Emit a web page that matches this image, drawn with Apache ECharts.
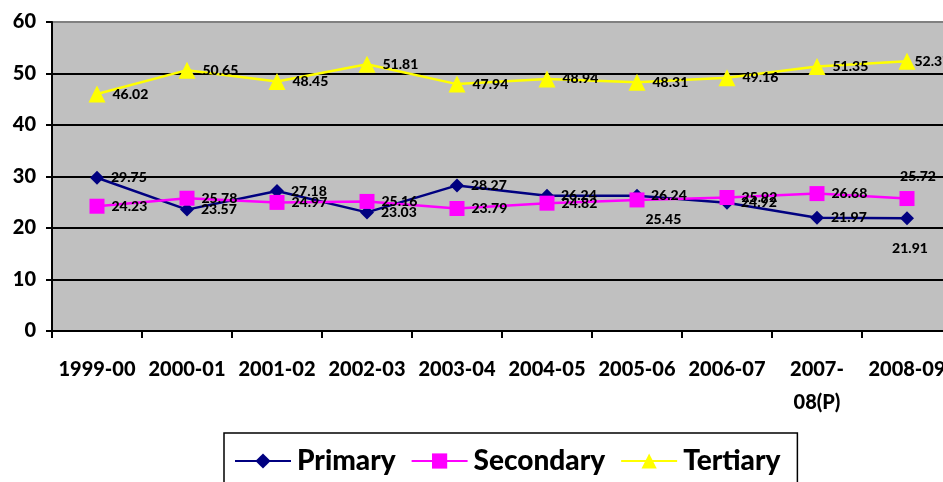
<!DOCTYPE html>
<html>
<head>
<meta charset="utf-8">
<script src="https://cdn.jsdelivr.net/npm/echarts@6/dist/echarts.min.js"></script>
<style>
  html, body { margin: 0; padding: 0; background: #ffffff; }
  #chart { width: 943px; height: 482px; }
</style>
</head>
<body>
<div id="chart"></div>
<script>
// Sector shares (%) by year
const years = ['1999-00', '2000-01', '2001-02', '2002-03', '2003-04', '2004-05', '2005-06', '2006-07', '2007-08(P)', '2008-09'];
const primary   = [29.75, 23.57, 27.18, 23.03, 28.27, 26.24, 26.24, 24.92, 21.97, 21.91];
const secondary = [24.23, 25.78, 24.97, 25.16, 23.79, 24.82, 25.45, 25.92, 26.68, 25.72];
const tertiary  = [46.02, 50.65, 48.45, 51.81, 47.94, 48.94, 48.31, 49.16, 51.35, 52.37];
const yTicks = [0, 10, 20, 30, 40, 50, 60];

const FONT = 'Lato, "DejaVu Sans", sans-serif';
const WEIGHT = 900;

// Per-point label placement for the few labels that sit off to one side
const labelPlacement = {
  Secondary: { 6: { position: 'right', offset: [-6, 20] }, 9: { position: 'top', distance: 8, offset: [11, 0] } },
  Primary:   { 9: { position: 'bottom', distance: 16, offset: [3, 0] } },
  Tertiary:  { 9: { position: 'right', offset: [-8, 0] } }
};

function buildData(name, values) {
  const special = labelPlacement[name] || {};
  return values.map((v, i) => special[i] ? { value: v, label: special[i] } : v);
}

function lineSeries(name, values, color, symbol, size) {
  return {
    name: name,
    type: 'line',
    data: buildData(name, values),
    symbol: symbol,
    symbolSize: size,
    lineStyle: { color: color, width: 2.5 },
    itemStyle: { color: color },
    label: {
      show: true,
      position: 'right',
      distance: 7,
      color: '#000',
      fontFamily: FONT,
      fontWeight: WEIGHT,
      fontSize: 14
    },
    emphasis: { disabled: true },
    animation: false
  };
}

const chart = echarts.init(document.getElementById('chart'), null, { renderer: 'canvas' });
chart.setOption({
  animation: false,
  backgroundColor: '#ffffff',
  grid: {
    left: 52, right: -9, top: 22, bottom: 151,
    show: true, backgroundColor: '#c0c0c0', borderWidth: 0,
    containLabel: false, outerBoundsMode: 'none'
  },
  xAxis: {
    type: 'category',
    data: years,
    boundaryGap: true,
    axisLine: { lineStyle: { color: '#000', width: 2 } },
    axisTick: { show: true, length: 7, interval: 0, lineStyle: { color: '#000', width: 2 } },
    axisLabel: {
      interval: 0,
      margin: 22,
      color: '#000',
      fontFamily: FONT,
      fontWeight: WEIGHT,
      fontSize: 20,
      lineHeight: 33,
      formatter: v => v.length > 8 ? v.replace('-', '-\n') : v
    },
    splitLine: { show: false }
  },
  yAxis: {
    type: 'value',
    min: yTicks[0],
    max: yTicks[yTicks.length - 1],
    interval: 10,
    axisLine: { show: true, lineStyle: { color: '#000', width: 2 } },
    axisTick: { show: true, length: 6, lineStyle: { color: '#000', width: 2 } },
    axisLabel: {
      margin: 16,
      color: '#000',
      fontFamily: FONT,
      fontWeight: WEIGHT,
      fontSize: 20
    },
    splitLine: {
      show: true,
      lineStyle: { color: ['#000', '#000', '#000', '#000', '#000', '#000', '#808080'], width: 2 }
    }
  },
  legend: {
    left: 224,
    top: 433,
    orient: 'horizontal',
    padding: [14, 17, 20, 10],
    itemGap: 15,
    itemWidth: 56,
    itemHeight: 19,
    borderColor: '#000',
    borderWidth: 1.5,
    textStyle: { color: '#000', fontFamily: FONT, fontWeight: WEIGHT, fontSize: 28, padding: [0, 0, 0, 1] },
    data: ['Primary', 'Secondary', 'Tertiary']
  },
  series: [
    lineSeries('Primary', primary, '#000080', 'diamond', 14),
    lineSeries('Secondary', secondary, '#ff00ff', 'rect', 15),
    lineSeries('Tertiary', tertiary, '#ffff00', 'triangle', 17)
  ]
});
</script>
</body>
</html>
